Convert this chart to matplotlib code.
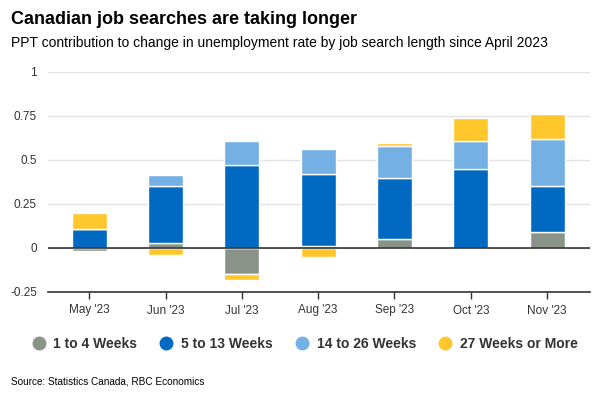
import matplotlib
matplotlib.use("Agg")
import matplotlib.pyplot as plt
import numpy as np

plt.rcParams['font.family'] = ['Liberation Sans', 'DejaVu Sans']

months = ["May '23", "Jun '23", "Jul '23", "Aug '23", "Sep '23", "Oct '23", "Nov '23"]
wk_1_4 = [-0.015, 0.03, -0.15, 0.01, 0.05, 0.0, 0.09]
wk_5_13 = [0.11, 0.32, 0.47, 0.41, 0.35, 0.45, 0.26]
wk_14_26 = [0.0, 0.065, 0.14, 0.14, 0.18, 0.16, 0.27]
wk_27_plus = [0.09, -0.04, -0.03, -0.05, 0.015, 0.13, 0.14]

series = [wk_1_4, wk_5_13, wk_14_26, wk_27_plus]
names = ["1 to 4 Weeks", "5 to 13 Weeks", "14 to 26 Weeks", "27 Weeks or More"]
colors = ["#8A9388", "#0069C2", "#74B0E3", "#FFC72C"]

fig = plt.figure(figsize=(6, 4), dpi=100)
ax = fig.add_axes([0.08, 0.27, 0.903, 0.55])

x = np.arange(len(months))
pos = np.zeros(len(months))
neg = np.zeros(len(months))
for vals, c, n in zip(series, colors, names):
    v = np.array(vals)
    base = np.where(v >= 0, pos, neg)
    ax.bar(x, v, 0.46, bottom=base, color=c, edgecolor="white", linewidth=1, label=n, zorder=3)
    pos = pos + np.where(v >= 0, v, 0)
    neg = neg + np.where(v < 0, v, 0)

ax.set_xlim(-0.54, 6.56)
ax.set_ylim(-0.25, 1)
ax.set_yticks([-0.25, 0, 0.25, 0.5, 0.75, 1])
ax.set_yticklabels(["-0.25", "0", "0.25", "0.5", "0.75", "1"])
ax.set_xticks(x)
ax.set_xticklabels(months)
ax.grid(axis="y", color="#e3e3e3", linewidth=1, zorder=0)
ax.axhline(0, color="#333333", linewidth=1.2, zorder=4)
for s in ["left", "right", "top"]:
    ax.spines[s].set_visible(False)
ax.spines["bottom"].set_color("#333333")
ax.spines["bottom"].set_linewidth(1.2)
ax.tick_params(axis="y", length=0, labelsize=8.5, colors="#333333", pad=8)
ax.tick_params(axis="x", length=5, width=1, color="#333333", labelsize=8.5, labelcolor="#333333", pad=4)

fig.text(0.018, 0.952, "Canadian job searches are taking longer", fontsize=13, fontweight="bold", ha="left", va="center")
fig.text(0.018, 0.893, "PPT contribution to change in unemployment rate by job search length since April 2023", fontsize=10, ha="left", va="center")

handles = [plt.Line2D([], [], marker="o", linestyle="", markersize=9, color=c) for c in colors]
fig.legend(handles, names, loc="center", bbox_to_anchor=(0.502, 0.14), ncol=4, frameon=False,
           prop={"weight": "bold", "size": 10}, labelcolor="#333333", handletextpad=0.05, columnspacing=1.1)

fig.text(0.018, 0.047, "Source: Statistics Canada, RBC Economics", fontsize=7.2, ha="left", va="center")

fig.savefig("out.png", dpi=100)
